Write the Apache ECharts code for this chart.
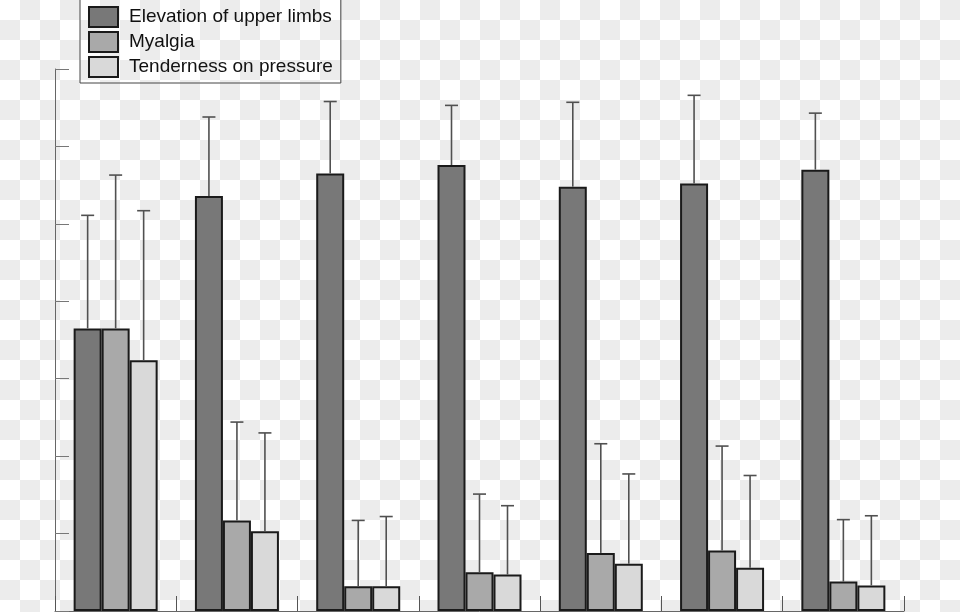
<!DOCTYPE html>
<html>
<head>
<meta charset="utf-8">
<script src="https://cdn.jsdelivr.net/npm/echarts@6/dist/echarts.min.js"></script>
<style>
html, body { margin: 0; padding: 0; }
body {
  width: 960px; height: 612px; overflow: hidden;
  background-color: #ffffff;
  background-image: conic-gradient(#ececec 0deg 90deg, #ffffff 90deg 180deg, #ececec 180deg 270deg, #ffffff 270deg 360deg);
  background-size: 40px 40px;
  background-position: 0 0;
}
#chart { width: 960px; height: 612px; }
</style>
</head>
<body>
<div id="chart"></div>
<script>
// ---- data ----
const categories = ['1', '2', '3', '4', '5', '6', '7'];
const seriesNames = ['Elevation of upper limbs', 'Myalgia', 'Tenderness on pressure'];
const elevation = [36.5, 53.6, 56.5, 57.6, 54.8, 55.2, 57.0];
const elevationSD = [14.6, 10.2, 9.3, 7.7, 10.9, 11.4, 7.3];
const myalgia = [36.5, 11.7, 3.2, 5.0, 7.5, 7.8, 3.8];
const myalgiaSD = [19.8, 12.7, 8.5, 10.1, 14.1, 13.5, 8.0];
const tenderness = [32.4, 10.3, 3.2, 4.7, 6.1, 5.6, 3.3];
const tendernessSD = [19.3, 12.7, 9.0, 8.9, 11.6, 11.9, 9.0];
const yMin = 0, yMax = 70, yInterval = 10;

// ---- styling ----
const colors = ['#787878', '#a9a9a9', '#d9d9d9'];
const BAR_W = 28;

const chart = echarts.init(document.getElementById('chart'), null, { renderer: 'canvas' });

function barSeries(name, data, color) {
  return {
    name: name, type: 'bar', data: data,
    barWidth: BAR_W, barGap: '0%',
    itemStyle: { color: color, borderColor: '#1a1a1a', borderWidth: 2 },
    emphasis: { disabled: true },
    z: 2
  };
}

function errSeries(name, means, sds, idx) {
  const offset = (idx - 1) * BAR_W;
  return {
    name: name + ' SD', type: 'custom',
    data: means.map((m, i) => [i, m, sds[i]]),
    encode: { x: 0, y: 1 },
    z: 3, silent: true,
    renderItem: function (params, api) {
      const c = api.value(0), v = api.value(1), e = api.value(2);
      const base = api.coord([c, v]);
      const top = api.coord([c, v + e]);
      const x = base[0] + offset;
      const st = { stroke: '#505050', lineWidth: 1.6 };
      return {
        type: 'group',
        children: [
          { type: 'line', shape: { x1: x, y1: base[1], x2: x, y2: top[1] }, style: st },
          { type: 'line', shape: { x1: x - 6.5, y1: top[1], x2: x + 6.5, y2: top[1] }, style: st }
        ]
      };
    }
  };
}

const option = {
  backgroundColor: 'transparent',
  animation: false,
  grid: { left: 55, right: 56, top: 69, bottom: 1, containLabel: false },
  legend: {
    data: seriesNames,
    orient: 'vertical',
    left: 80, top: -1,
    padding: [7, 8, 5, 8],
    itemWidth: 29, itemHeight: 20, itemGap: 3,
    icon: 'rect',
    borderColor: '#444444', borderWidth: 1,
    selectedMode: false,
    textStyle: { fontFamily: 'Liberation Sans', fontSize: 19, lineHeight: 20, color: '#111111', padding: [0, 0, 0, 6] }
  },
  xAxis: {
    type: 'category', data: categories,
    boundaryGap: true,
    axisLine: { show: true, lineStyle: { color: '#666666', width: 1 } },
    axisTick: { show: true, inside: true, length: 15, lineStyle: { color: '#555555' } },
    axisLabel: { show: false },
    splitLine: { show: false }
  },
  yAxis: {
    type: 'value', min: yMin, max: yMax, interval: yInterval,
    axisLine: { show: true, lineStyle: { color: '#666666', width: 1 } },
    axisTick: { show: true, inside: true, length: 14, lineStyle: { color: '#777777' } },
    axisLabel: { show: false },
    splitLine: { show: false }
  },
  series: [
    barSeries(seriesNames[0], elevation, colors[0]),
    barSeries(seriesNames[1], myalgia, colors[1]),
    barSeries(seriesNames[2], tenderness, colors[2]),
    errSeries(seriesNames[0], elevation, elevationSD, 0),
    errSeries(seriesNames[1], myalgia, myalgiaSD, 1),
    errSeries(seriesNames[2], tenderness, tendernessSD, 2)
  ]
};
chart.setOption(option);
</script>
</body>
</html>
